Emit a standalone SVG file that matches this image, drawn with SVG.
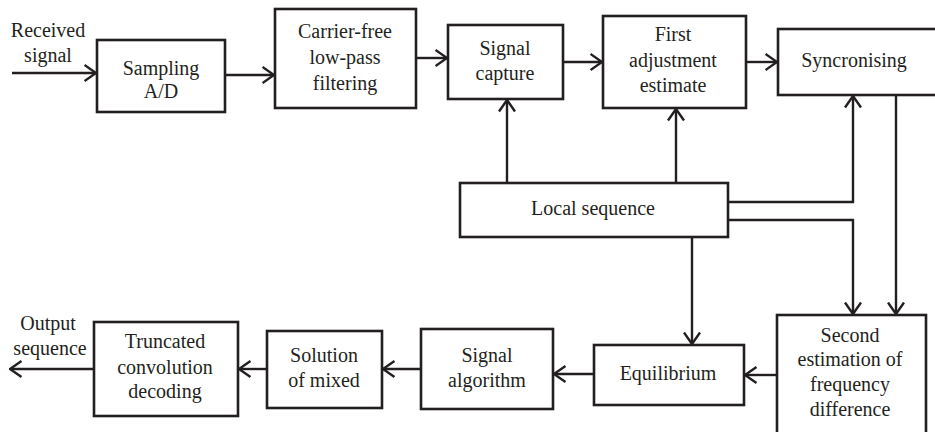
<svg xmlns="http://www.w3.org/2000/svg" width="935" height="432" viewBox="0 0 935 432">
<style>
.box{fill:#fff;stroke:#231f20;stroke-width:2.6}
.t{font-family:"Liberation Serif","DejaVu Serif",serif;font-size:20px;fill:#231f20;text-anchor:middle}
.c{fill:none;stroke:#231f20;stroke-width:2.4;marker-end:url(#ah)}
</style>
<defs>
<marker id="ah" viewBox="0 0 14 18" refX="12.5" refY="9" markerWidth="14" markerHeight="18" markerUnits="userSpaceOnUse" orient="auto">
<path d="M1,1 L12.5,9 L1,17" fill="none" stroke="#231f20" stroke-width="2.4"/>
</marker>
</defs>
<rect width="935" height="432" fill="#fff"/>
<g id="connectors">
<path class="c" d="M12,73 H96"/>
<path class="c" d="M225,75 H274"/>
<path class="c" d="M416,58 H447"/>
<path class="c" d="M563,62 H602"/>
<path class="c" d="M746,62 H777"/>
<path class="c" d="M507,183 V100"/>
<path class="c" d="M676,183 V109"/>
<path class="c" d="M728,202 H853 V96"/>
<path class="c" d="M728,220 H853 V314"/>
<path class="c" d="M896,95 V314"/>
<path class="c" d="M692,237 V344"/>
<path class="c" d="M777,375 H745"/>
<path class="c" d="M594,374 H554"/>
<path class="c" d="M421,369 H383"/>
<path class="c" d="M267,369 H239"/>
<path class="c" d="M94,369 H10"/>
</g>
<g id="received-signal">
<text class="t" x="48" y="37">Received</text>
<text class="t" x="48" y="62">signal</text>
</g>
<g id="sampling">
<rect class="box" x="97" y="40" width="128" height="72"/>
<text class="t" x="161" y="75">Sampling</text>
<text class="t" x="161" y="98">A/D</text>
</g>
<g id="carrier-free">
<rect class="box" x="275" y="9" width="141" height="99"/>
<text class="t" x="345" y="38">Carrier-free</text>
<text class="t" x="345" y="64">low-pass</text>
<text class="t" x="345" y="90">filtering</text>
</g>
<g id="signal-capture">
<rect class="box" x="448" y="25" width="115" height="74"/>
<text class="t" x="505" y="55">Signal</text>
<text class="t" x="505" y="80">capture</text>
</g>
<g id="first-adjustment">
<rect class="box" x="603" y="16" width="143" height="92"/>
<text class="t" x="673" y="41">First</text>
<text class="t" x="673" y="67">adjustment</text>
<text class="t" x="673" y="92">estimate</text>
</g>
<g id="syncronising">
<rect class="box" x="778" y="29" width="170" height="66"/>
<text class="t" x="854" y="67">Syncronising</text>
</g>
<g id="local-sequence">
<rect class="box" x="460" y="183" width="268" height="54"/>
<text class="t" x="593" y="215">Local sequence</text>
</g>
<g id="second-estimation">
<rect class="box" x="777" y="315" width="149" height="130"/>
<text class="t" x="850" y="342">Second</text>
<text class="t" x="850" y="366">estimation of</text>
<text class="t" x="850" y="391">frequency</text>
<text class="t" x="850" y="416">difference</text>
</g>
<g id="equilibrium">
<rect class="box" x="594" y="345" width="150" height="60"/>
<text class="t" x="668" y="380">Equilibrium</text>
</g>
<g id="signal-algorithm">
<rect class="box" x="421" y="329" width="132" height="80"/>
<text class="t" x="487" y="362">Signal</text>
<text class="t" x="487" y="387">algorithm</text>
</g>
<g id="solution-of-mixed">
<rect class="box" x="267" y="331" width="115" height="77"/>
<text class="t" x="324" y="362">Solution</text>
<text class="t" x="324" y="387">of mixed</text>
</g>
<g id="truncated">
<rect class="box" x="94" y="322" width="144" height="94"/>
<text class="t" x="165" y="348">Truncated</text>
<text class="t" x="165" y="374">convolution</text>
<text class="t" x="165" y="398">decoding</text>
</g>
<g id="output-sequence">
<text class="t" x="48" y="330">Output</text>
<text class="t" x="50" y="355">sequence</text>
</g>
</svg>
